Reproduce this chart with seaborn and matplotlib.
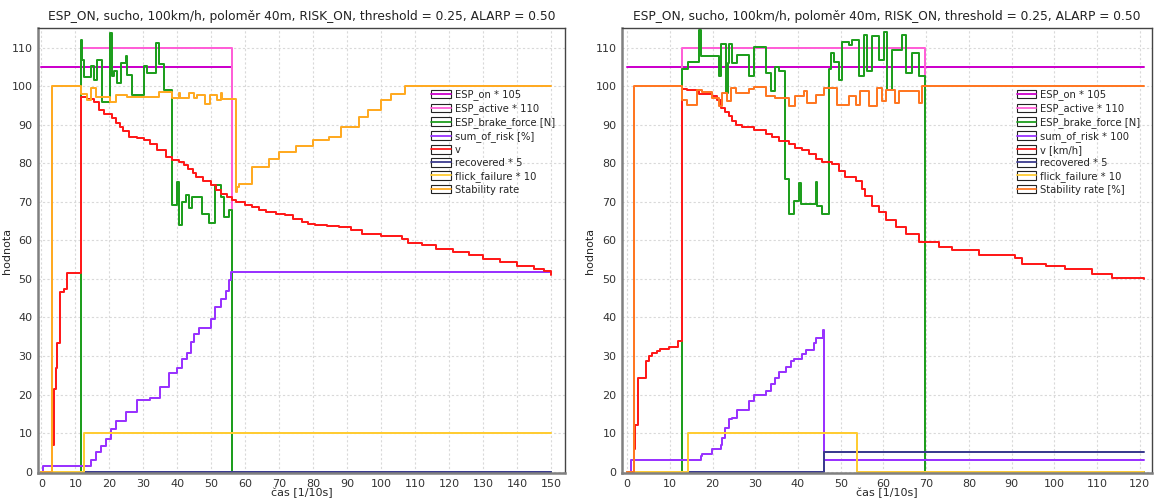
import matplotlib
matplotlib.use("Agg")
import matplotlib.pyplot as plt
import seaborn as sns
from matplotlib.patches import Rectangle
from matplotlib.lines import Line2D
from matplotlib.legend_handler import HandlerBase

title = "ESP_ON, sucho, 100km/h, poloměr 40m, RISK_ON, threshold = 0.25, ALARP = 0.50"

# ---------------- left panel data (time in 1/10 s) ----------------
L_esp_on_x = [0, 56.1, 150]
L_esp_on_y = [105, 0, 0]
L_active_x = [0, 11.5, 56.1, 150]
L_active_y = [0, 110, 0, 0]
L_brake_x = [0, 11.5, 12.0, 12.5, 14.5, 15.4, 16.4, 17.9, 20.3, 20.8, 21.3, 22.3, 23.3, 24.8, 25.2,
             26.7, 30.1, 31.1, 33.6, 34.6, 36.0, 38.3, 39.9, 40.4, 41.4, 42.4, 43.4, 44.3, 47.3,
             49.2, 51.2, 52.7, 53.6, 55.1, 56.1, 150]
L_brake_y = [0, 112, 107, 102.5, 105.2, 101.7, 106.9, 96, 113.8, 102.6, 104, 101, 106, 107.8, 103,
             97.8, 105.3, 103.5, 111.2, 105.8, 99, 69.2, 75.2, 64, 70, 71.8, 68.5, 71.3, 67,
             64.5, 74.4, 71.3, 66, 68, 0, 0]
L_risk_x = [0, 0.5, 14.5, 16, 17.5, 19, 20.5, 22, 25, 28, 32, 35, 37.5, 39.9, 41.4, 42.9, 43.9,
            44.9, 46.3, 49.8, 51.2, 52.7, 54.2, 55.1, 55.8, 150]
L_risk_y = [0, 1.5, 3, 5, 6.5, 8.5, 11, 13, 15.5, 18.5, 19, 22, 25.5, 27, 29.3, 30.8, 33.6,
            35.8, 37.3, 39.7, 42.7, 44.9, 46.9, 49.7, 51.7, 51.7]
L_v_x = [3.5, 3.8, 4.3, 4.6, 5.5, 6.5, 7.5, 11.5, 13.5, 15.4, 16.9, 18.5, 20.8, 22, 23, 24, 25.7,
         28, 30.1, 32, 34, 36.5, 38.5, 40.4, 42, 43, 44.5, 45.4, 47.5, 49.8, 51.5, 52.7, 54.5,
         56.1, 57.1, 60, 62, 64, 66, 69, 71.8, 74, 76.7, 78.5, 80.6, 84, 87.5, 91, 94.4, 100,
         106.1, 108, 112, 116, 121, 125.7, 130, 135, 140, 145, 148, 150]
L_v_y = [7, 21.5, 27, 33.5, 46.5, 47.5, 51.5, 97.3, 96.8, 96, 93.9, 92.8, 91.7, 90.5, 89.5, 88.5,
         86.9, 86.5, 86.1, 85, 83.5, 81.7, 81, 80.4, 79.5, 78.5, 77.5, 76.5, 75.5, 74.4, 73.2,
         72.2, 71.2, 70.5, 70, 69.2, 68.6, 67.9, 67.4, 67, 66.6, 65.6, 64.8, 64.4, 64, 63.8,
         63.5, 62.6, 61.8, 61.2, 60.5, 59.4, 58.7, 57.9, 57, 56.2, 55.2, 54.4, 53.5, 52.5,
         52, 51]
L_recovered_x = [0, 150]
L_recovered_y = [0, 0]
L_flick_x = [0, 12.5, 150]
L_flick_y = [0, 10, 10]
L_stab_x = [0, 3.0, 11.5, 13.5, 14.5, 15.9, 20.3, 21.8, 25.2, 34.6, 38.5, 40.4, 40.9, 43.4, 44.8,
            45.8, 48.2, 49.7, 51.7, 52.7, 53.1, 57.1, 57.6, 58.2, 62.1, 67, 70, 75, 80, 84.6, 88,
            93.4, 96, 100, 103, 107, 150]
L_stab_y = [0, 100, 98, 96.5, 99.7, 97.3, 96, 97.7, 97.3, 98.5, 97, 98.3, 97, 98.3, 97,
            97.8, 95.5, 97.8, 96.5, 98.3, 96.7, 72.7, 73.9, 74.8, 79.1, 81.2, 83, 84.5, 86, 87,
            89.5, 92, 94, 96.5, 98, 100, 100]

# ---------------- right panel data ----------------
R_esp_on_x = [0, 121]
R_esp_on_y = [105, 105]
R_active_x = [0, 12.9, 69.7, 121]
R_active_y = [0, 110, 0, 0]
R_brake_x = [0, 12.9, 14.3, 16.9, 17.3, 21.5, 21.9, 23.1, 23.5, 23.8, 24.6, 25.8, 28.5, 29.7,
             32.4, 33.6, 34.7, 35.5, 36.9, 37.9, 39.0, 40.2, 40.6, 44.1, 44.5, 45.7, 47.3, 47.7,
             48.5, 49.6, 50.4, 51.9, 52.7, 54.3, 55.4, 56.2, 57.4, 58.9, 60.1, 60.9, 62.1, 64.4,
             65.2, 66.8, 68.3, 69.7, 121]
R_brake_y = [0, 104.5, 106.3, 114.6, 107.8, 102.6, 111, 98.4, 106, 111, 106, 108.2, 102.6, 110.3,
             103.4, 98.9, 105.1, 104, 75.9, 66.9, 70.3, 75, 69.6, 75.1, 68.9, 66.9, 104.5, 108.6,
             106.3, 101.7, 111.6, 110.8, 112.1, 102.6, 113.4, 103.9, 113, 106.9, 114.2, 99.2, 109.5, 113.4,
             103.5, 108.6, 102.6, 0, 0]
R_risk_x = [0, 1.0, 17.2, 17.6, 19.9, 21.9, 22.2, 23.0, 23.8, 24.6, 25.8, 28.5, 29.7, 32.4, 33.6,
            34.7, 35.5, 37.1, 38.3, 39.0, 41.0, 41.8, 43.7, 44.1, 45.8, 46.0, 121]
R_risk_y = [0, 3, 4.1, 4.6, 5.8, 7, 8.8, 11.4, 13.6, 14.0, 16.0, 18.3, 19.8, 20.9, 22.6,
            24.3, 25.9, 27.1, 28.6, 29.1, 30.4, 31.6, 33.3, 34.8, 36.8, 3, 3]
R_v_x = [1.7, 1.95, 2.6, 4.3, 5.1, 5.85, 7.0, 7.8, 9.7, 11.9, 12.9, 14.0, 16.8, 19.9, 21.0, 21.9,
         23.0, 23.8, 24.6, 25.4, 26.9, 29.7, 32.4, 33.9, 35.5, 37.9, 39.4, 41.0, 42.5, 44.1, 45.7,
         48.0, 49.6, 51.1, 53.5, 55.0, 55.8, 57.4, 58.9, 60.5, 62.9, 65.2, 68.3, 73.0, 76.1, 82.4,
         90.9, 92.5, 98.0, 102.6, 108.9, 113.6, 121]
R_v_y = [5.8, 12.0, 24.3, 28.6, 29.9, 30.8, 31.3, 31.9, 32.3, 34.0, 99.4, 99.0, 98.1, 97.5, 96.4, 94.4,
         93.3, 92.3, 91.0, 90.1, 89.5, 88.6, 87.6, 86.8, 85.9, 85.0, 84.1, 83.6, 82.4, 81.1, 80.4,
         79.8, 78.1, 76.4, 75.5, 73.5, 71.6, 69.0, 67.3, 65.2, 63.5, 61.8, 59.6, 58.3, 57.4, 56.2,
         55.5, 54.0, 53.4, 52.6, 51.4, 50.3, 50.1]
R_recovered_x = [0, 46.0, 121]
R_recovered_y = [0, 5, 5]
R_flick_x = [0, 14.3, 53.9, 121]
R_flick_y = [0, 10, 0, 0]
R_stab_x = [0, 1.7, 12.9, 14.1, 16.4, 17.6, 19.9, 21.5, 22.2, 23.4, 24.2, 25.4, 28.5, 29.7, 32.4,
            34.7, 37.9, 39.4, 41.4, 42.1, 44.1, 46.0, 49.2, 51.9, 53.5, 54.6, 56.6, 58.5, 59.7,
            60.5, 62.8, 63.6, 68.3, 69.1, 121]
R_stab_y = [0, 100, 96.6, 95.3, 99.2, 98.5, 97.0, 94.9, 98.3, 96.2, 99.6, 98.4, 99.3, 99.8, 97.5,
            97.0, 95.0, 97.5, 98.8, 95.8, 97.9, 99.6, 95.3, 97.6, 95.3, 98.8, 95.0, 99.5, 96.3,
            99.0, 95.8, 98.9, 95.8, 100, 100]

left_labels = ["ESP_on * 105", "ESP_active * 110", "ESP_brake_force [N]", "sum_of_risk [%]",
               "v", "recovered * 5", "flick_failure * 10", "Stability rate"]
right_labels = ["ESP_on * 105", "ESP_active * 110", "ESP_brake_force [N]", "sum_of_risk * 100",
                "v [km/h]", "recovered * 5", "flick_failure * 10", "Stability rate [%]"]

c_on, c_active, c_brake, c_risk = "#cc00cc", "#ff5fd7", "#1e9e1e", "#9933ff"
c_v, c_rec, c_flick = "#ff1a1a", "#3b3b8f", "#ffcc33"
left_colors = [c_on, c_active, c_brake, c_risk, c_v, c_rec, c_flick, "#ffaa22"]
right_colors = [c_on, c_active, c_brake, c_risk, c_v, c_rec, c_flick, "#ff7722"]

left_series = [(L_esp_on_x, L_esp_on_y), (L_active_x, L_active_y), (L_brake_x, L_brake_y),
               (L_risk_x, L_risk_y), (L_v_x, L_v_y), (L_recovered_x, L_recovered_y),
               (L_flick_x, L_flick_y), (L_stab_x, L_stab_y)]
right_series = [(R_esp_on_x, R_esp_on_y), (R_active_x, R_active_y), (R_brake_x, R_brake_y),
                (R_risk_x, R_risk_y), (R_v_x, R_v_y), (R_recovered_x, R_recovered_y),
                (R_flick_x, R_flick_y), (R_stab_x, R_stab_y)]


# legend key: small white box with black border and the series line through it
class BoxLineHandler(HandlerBase):
    def create_artists(self, legend, orig_handle, xdescent, ydescent, width, height,
                       fontsize, trans):
        box = Rectangle((-xdescent, -ydescent), width, height, facecolor="white",
                        edgecolor="#222222", lw=0.8, transform=trans)
        line = Line2D([-xdescent, -xdescent + width], [-ydescent + height / 2] * 2,
                      color=orig_handle.get_color(), lw=1.3, transform=trans)
        return [box, line]


sns.set_style("white")
plt.rcParams["font.family"] = ["DejaVu Sans"]

fig = plt.figure(figsize=(11.54, 4.99), dpi=100)
ax1 = fig.add_axes([0.033, 0.052, 0.457, 0.892])
ax2 = fig.add_axes([0.539, 0.052, 0.459, 0.892])


def draw_panel(ax, series, colors, labels, xmax, xlim):
    for (xs, ys), col in zip(series, colors):
        sns.lineplot(x=xs, y=ys, ax=ax, color=col, drawstyle="steps-post", lw=1.44,
                     snap=True, estimator=None, sort=False, legend=False)
    ax.set_xlim(*xlim)
    ax.set_ylim(-0.4, 115.2)
    ax.set_xticks(range(0, xmax + 1, 10))
    ax.set_yticks(range(0, 111, 10))
    ax.grid(True, color="#d9d9d9", linestyle=(0, (2, 2)), lw=0.8)
    ax.set_axisbelow(True)
    ax.tick_params(labelsize=8, length=2, colors="#333333", pad=2)
    for side in ["left", "bottom"]:
        ax.spines[side].set_color("#808080")
        ax.spines[side].set_linewidth(1.8)
    for side in ["top", "right"]:
        ax.spines[side].set_color("#444444")
        ax.spines[side].set_linewidth(1.0)
    ax.set_title(title, fontsize=8.8, color="#222222", pad=6)
    ax.set_xlabel("čas [1/10s]", fontsize=8, labelpad=-1)
    ax.set_ylabel("hodnota", fontsize=8, labelpad=0)
    handles = [Line2D([0], [0], color=col) for col in colors]
    ax.legend(handles, labels, handler_map={Line2D: BoxLineHandler()},
              loc="upper left", bbox_to_anchor=(0.732, 0.878), frameon=False,
              fontsize=7.2, handlelength=1.95, handleheight=0.9, handletextpad=0.4,
              labelspacing=0.3, borderpad=0.2)


draw_panel(ax1, left_series, left_colors, left_labels, 150, (-1, 154.2))
draw_panel(ax2, right_series, right_colors, right_labels, 120, (-1.2, 122.8))

fig.savefig("out.png", dpi=100)
